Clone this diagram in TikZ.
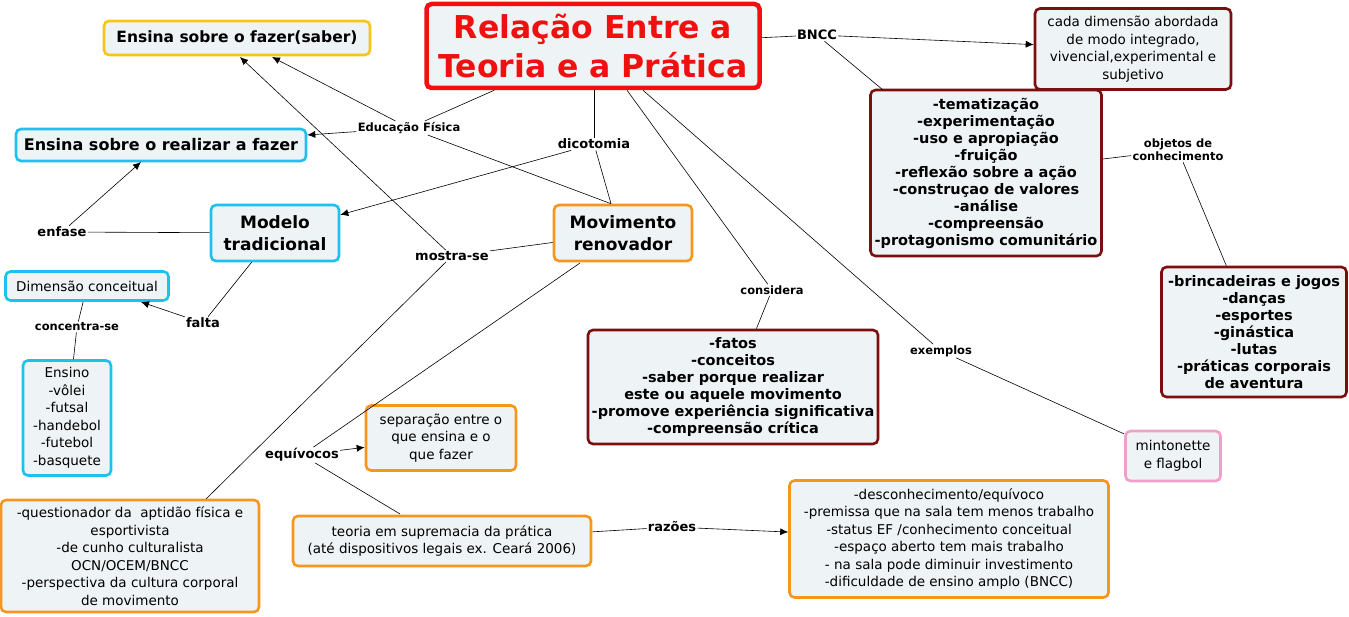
\documentclass[tikz,border=0pt]{standalone}
\usepackage{fontspec}
\setmainfont{DejaVu Sans}
\usetikzlibrary{arrows.meta}
\definecolor{boxbg}{HTML}{EEF3F5}
\definecolor{tred}{HTML}{F01010}
\definecolor{tyel}{HTML}{F5C518}
\definecolor{tcyan}{HTML}{1EC0EE}
\definecolor{torange}{HTML}{F7961D}
\definecolor{tdark}{HTML}{7B0F0F}
\definecolor{tpink}{HTML}{F0A0C8}
\begin{document}
\begin{tikzpicture}[
  x=1pt,y=-1pt,
  box/.style={draw=#1,fill=boxbg,rounded corners=5pt,line width=2.6pt,align=center,inner sep=2pt},
  bbox/.style={box=#1,font=\bfseries\fontsize{14.5}{17}\selectfont},
  rbox/.style={box=#1,font=\fontsize{13.5}{17.5}\selectfont},
  lab/.style={font=\bfseries\fontsize{13}{15}\selectfont,inner sep=1pt,align=center},
  slab/.style={lab,font=\bfseries\fontsize{11.5}{13}\selectfont},
  arr/.style={-{Latex[length=8pt,width=7pt]}},
  every path/.style={line width=0.6pt}
  ]
\useasboundingbox (0,0) rectangle (1349,617);
% boxes
\node[box=tred,line width=4.5pt,text=tred,font=\bfseries\fontsize{31.5}{39}\selectfont,minimum width=333,minimum height=84] (title) at (593,46) {Relação Entre a\\Teoria e a Prática};
\node[bbox=tyel,font=\bfseries\fontsize{15.5}{18}\selectfont,minimum width=266,minimum height=34] (saber) at (237,38) {Ensina sobre o fazer(saber)};
\node[bbox=tcyan,font=\bfseries\fontsize{16}{18}\selectfont,minimum width=290,minimum height=32] (realizar) at (161,145) {Ensina sobre o realizar a fazer};
\node[bbox=tcyan,font=\bfseries\fontsize{17}{22}\selectfont,minimum width=128,minimum height=56] (modelo) at (275,233) {Modelo\\tradicional};
\node[bbox=torange,font=\bfseries\fontsize{17}{22}\selectfont,minimum width=138,minimum height=56] (movimento) at (623,233) {Movimento\\renovador};
\node[rbox=tcyan,minimum width=163,minimum height=29] (dimensao) at (87,286) {Dimensão conceitual};
\node[rbox=tcyan,minimum width=88,minimum height=115] (ensino) at (67,418) {Ensino\\-vôlei\\-futsal\\-handebol\\-futebol\\-basquete};
\node[rbox=torange,minimum width=258,minimum height=112] (quest) at (130,556) {-questionador da\ \ aptidão física e\\esportivista\\-de cunho culturalista\\OCN/OCEM/BNCC\\-perspectiva da cultura corporal\\de movimento};
\node[rbox=torange,minimum width=150,minimum height=65] (separacao) at (441,438) {separação entre o\\que ensina e o\\que fazer};
\node[rbox=torange,minimum width=298,minimum height=50] (teoria) at (442,541) {teoria em supremacia da prática\\(até dispositivos legais ex. Ceará 2006)};
\node[rbox=torange,minimum width=319,minimum height=117] (descon) at (949,539) {-desconhecimento/equívoco\\-premissa que na sala tem menos trabalho\\-status EF /conhecimento conceitual\\-espaço aberto tem mais trabalho\\- na sala pode diminuir investimento\\-dificuldade de ensino amplo (BNCC)};
\node[bbox=tdark,minimum width=290,minimum height=114] (fatos) at (733,387) {-fatos\\-conceitos\\-saber porque realizar\\este ou aquele movimento\\-promove experiência significativa\\-compreensão crítica};
\node[rbox=tdark,minimum width=196,minimum height=81] (cada) at (1133,49) {cada dimensão abordada\\de modo integrado,\\vivencial,experimental e\\subjetivo};
\node[bbox=tdark,minimum width=231,minimum height=166] (temat) at (986,173) {-tematização\\-experimentação\\-uso e apropiação\\-fruição\\-reflexão sobre a ação\\-construçao de valores\\-análise\\-compreensão\\-protagonismo comunitário};
\node[bbox=tdark,minimum width=185,minimum height=130] (brinc) at (1254,332) {-brincadeiras e jogos\\-danças\\-esportes\\-ginástica\\-lutas\\-práticas corporais\\de aventura};
\node[rbox=tpink,minimum width=95,minimum height=50] (minto) at (1173,456) {mintonette\\e flagbol};
% linking phrases
\node[slab] (edfis) at (409,128) {Educação Física};
\node[lab] (dicot) at (594,144) {dicotomia};
\node[lab] (bncc) at (817,35) {BNCC};
\node[lab] (enfase) at (62,232) {enfase};
\node[lab] (falta) at (203,323) {falta};
\node[slab] (concentra) at (77,327) {concentra-se};
\node[lab] (mostra) at (452,256) {mostra-se};
\node[slab] (considera) at (772,290) {considera};
\node[slab] (exemplos) at (941,351) {exemplos};
\node[slab] (objetos) at (1178,150) {objetos de\\conhecimento};
\node[lab] (equiv) at (302,455) {equívocos};
\node[lab] (razoes) at (672,527) {razões};
% connectors
\draw (title.south west) ++(70,0) coordinate (t1) -- (edfis);
\draw[arr] (edfis) -- (272,57);
\draw[arr] (edfis) -- (realizar);
\draw (movimento.north) ++(-12,0) coordinate (m1) -- (edfis);
\draw (title) ++(1,44) coordinate (t2) -- (dicot);
\draw[arr] (dicot) -- (modelo);
\draw (dicot) -- (m1);
\draw (title) -- (bncc);
\draw[arr] (bncc) -- (cada);
\draw (bncc) -- (883,90);
\draw (temat) -- (objetos);
\draw (objetos) -- (brinc);
\draw (title.south) ++(34,0) coordinate (t3) -- (considera);
\draw (considera) -- (fatos);
\draw (title.south) ++(50,0) coordinate (t4) -- (exemplos);
\draw (exemplos) -- (minto);
\draw (modelo) -- (enfase);
\draw[arr] (enfase) -- (141,162);
\draw (modelo) -- (falta);
\draw[arr] (falta) -- (141,302);
\draw (dimensao) -- (concentra);
\draw (concentra) -- (ensino);
\draw (movimento) -- (mostra);
\draw[arr] (mostra) -- (240,57);
\draw (mostra) -- (206,499);
\draw (580,263) -- (equiv);
\draw[arr] (equiv) -- (separacao);
\draw (equiv) -- (400,514);
\draw (teoria) -- (razoes);
\draw[arr] (razoes) -- (descon);
\end{tikzpicture}
\end{document}
